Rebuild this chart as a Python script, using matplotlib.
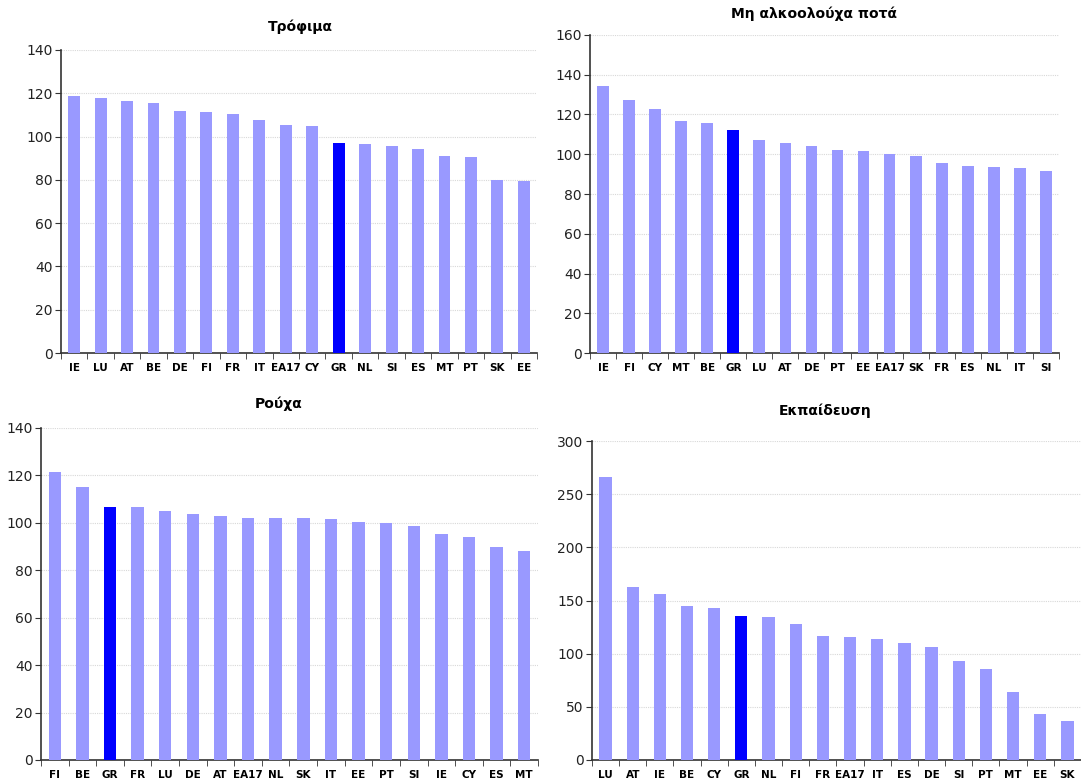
import numpy as np
import matplotlib
matplotlib.use("Agg")
import matplotlib.pyplot as plt

# Τρόφιμα
food_labels = ["IE", "LU", "AT", "BE", "DE", "FI", "FR", "IT", "EA17", "CY",
               "GR", "NL", "SI", "ES", "MT", "PT", "SK", "EE"]
food_values = [118.8, 117.8, 116.5, 115.5, 111.8, 111.4, 110.5, 107.7, 105.4, 104.9,
               97.1, 96.6, 95.7, 94.3, 91.1, 90.6, 80.0, 79.5]

# Μη αλκοολούχα ποτά
drinks_labels = ["IE", "FI", "CY", "MT", "BE", "GR", "LU", "AT", "DE", "PT",
                 "EE", "EA17", "SK", "FR", "ES", "NL", "IT", "SI"]
drinks_values = [134.3, 127.3, 122.7, 116.7, 115.7, 112.2, 107.1, 105.6, 104.1, 102.1,
                 101.6, 100.1, 99.1, 95.5, 94.0, 93.5, 93.0, 91.5]

# Ρούχα
clothes_labels = ["FI", "BE", "GR", "FR", "LU", "DE", "AT", "EA17", "NL", "SK",
                  "IT", "EE", "PT", "SI", "IE", "CY", "ES", "MT"]
clothes_values = [121.4, 115.1, 106.7, 106.7, 105.0, 103.7, 102.9, 102.1, 102.1, 102.1,
                  101.6, 100.4, 100.0, 98.7, 95.3, 94.1, 89.9, 88.2]

# Εκπαίδευση
edu_labels = ["LU", "AT", "IE", "BE", "CY", "GR", "NL", "FI", "FR", "EA17",
              "IT", "ES", "DE", "SI", "PT", "MT", "EE", "SK"]
edu_values = [266.2, 163.0, 156.4, 145.1, 143.3, 135.8, 134.8, 128.2, 117.0, 116.0,
              114.2, 110.4, 106.7, 93.5, 86.0, 63.5, 42.9, 36.3]

LIGHT = "#9999FF"
DARK = "#0000FF"

fig = plt.figure(figsize=(10.81, 7.81), dpi=100)

panels = [
    ("Τρόφιμα", food_labels, food_values, 140, 20,
     [0.0564, 0.548, 0.4404, 0.388], 0.502, 1.076),
    ("Μη αλκοολούχα ποτά", drinks_labels, drinks_values, 160, 20,
     [0.5458, 0.548, 0.4338, 0.4072], 0.478, 1.066),
    ("Ρούχα", clothes_labels, clothes_values, 140, 20,
     [0.0379, 0.0269, 0.4598, 0.4251], 0.479, 1.072),
    ("Εκπαίδευση", edu_labels, edu_values, 300, 50,
     [0.5476, 0.0269, 0.4524, 0.4084], 0.476, 1.094),
]

for title, labels, values, ymax, step, rect, tx, ty in panels:
    ax = fig.add_axes(rect)
    x = np.arange(len(labels))
    colors = [DARK if lab == "GR" else LIGHT for lab in labels]
    ax.bar(x, values, width=0.45, color=colors, zorder=3)

    ax.set_xlim(-0.5, len(labels) - 0.5)
    ax.set_ylim(0, ymax)
    ax.set_yticks(np.arange(0, ymax + 1, step))
    ax.yaxis.grid(True, color="#d8d8d8", linestyle=(0, (1, 1)), linewidth=0.8, zorder=0)

    ax.set_xticks(x)
    ax.set_xticklabels(labels, fontsize=7.5, fontweight="bold")
    ax.set_xticks(np.arange(-0.5, len(labels), 1), minor=True)
    ax.tick_params(axis="x", which="major", length=0, pad=7)
    ax.tick_params(axis="x", which="minor", length=4, color="#333333")
    ax.tick_params(axis="y", length=4, color="#333333", pad=2,
                   labelsize=10, labelcolor="#222222")

    for side in ("top", "right"):
        ax.spines[side].set_visible(False)
    for side in ("left", "bottom"):
        ax.spines[side].set_color("#333333")
        ax.spines[side].set_linewidth(1.2)

    ax.text(tx, ty, title, transform=ax.transAxes, ha="center", va="center",
            fontsize=10, fontweight="bold")

fig.savefig("out.png", dpi=100)
